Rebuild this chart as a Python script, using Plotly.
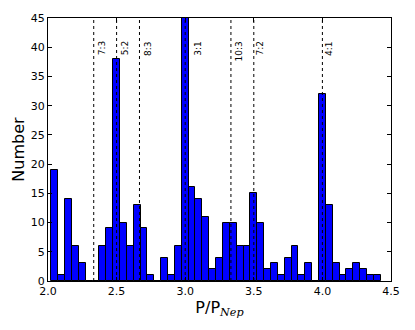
import plotly.graph_objects as go

# histogram bins (centre of each 0.05 bin) and counts
bin_centres = [2.05, 2.10, 2.15, 2.20, 2.25, 2.30, 2.35, 2.40, 2.45, 2.50,
               2.55, 2.60, 2.65, 2.70, 2.75, 2.80, 2.85, 2.90, 2.95, 3.00,
               3.05, 3.10, 3.15, 3.20, 3.25, 3.30, 3.35, 3.40, 3.45, 3.50,
               3.55, 3.60, 3.65, 3.70, 3.75, 3.80, 3.85, 3.90, 3.95, 4.00,
               4.05, 4.10, 4.15, 4.20, 4.25, 4.30, 4.35, 4.40]
counts = [19, 1, 14, 6, 3, 0, 0, 6, 9, 38,
          10, 6, 13, 9, 1, 0, 4, 1, 6, 45,
          16, 14, 11, 2, 4, 10, 10, 6, 6, 15,
          10, 2, 3, 1, 4, 6, 1, 3, 0, 32,
          13, 3, 1, 2, 3, 2, 1, 1]

# mean motion resonances with Neptune
res_ratio = [7/3, 5/2, 8/3, 3.0, 10/3, 7/2, 4.0]
res_label = ["7:3", "5:2", "8:3", "3:1", "10:3", "7:2", "4:1"]

label_shift = [1, 1, 1, 5, 1, -1, -1]

fig = go.Figure()
fig.add_trace(go.Bar(x=bin_centres, y=counts, width=0.05,
                     marker=dict(color="#0000ff",
                                 line=dict(color="black", width=1)),
                     hoverinfo="x+y"))

for r, lab, dx in zip(res_ratio, res_label, label_shift):
    fig.add_shape(type="line", x0=r, x1=r, y0=0, y1=1, xref="x", yref="paper",
                  line=dict(color="black", width=1, dash="dot"), layer="above")
    fig.add_annotation(x=r, y=41.3, xref="x", yref="y", text=lab,
                       textangle=-90, showarrow=False,
                       xanchor="left", yanchor="top", xshift=dx,
                       font=dict(size=9, color="black"))

tickfont = dict(family="DejaVu Sans", size=11, color="black")
fig.update_layout(
    width=415, height=330,
    margin=dict(l=48, r=24, t=15, b=49),
    paper_bgcolor="white", plot_bgcolor="white",
    showlegend=False, bargap=0,
    font=dict(family="DejaVu Sans", color="black"),
    xaxis=dict(range=[2.0, 4.5], tickvals=[2.0, 2.5, 3.0, 3.5, 4.0, 4.5],
               ticktext=["2.0", "2.5", "3.0", "3.5", "4.0", "4.5"],
               ticks="inside", ticklen=4, tickcolor="black",
               showline=True, linecolor="black", linewidth=1, mirror="ticks",
               showgrid=False, zeroline=False, tickfont=tickfont,
               title=dict(text="P/P<sub><i><span style='font-family:DejaVu Serif'>Nep</span></i></sub>",
                          font=dict(size=16), standoff=4)),
    yaxis=dict(range=[0, 45], tickvals=list(range(0, 46, 5)),
               ticks="inside", ticklen=4, tickcolor="black",
               showline=True, linecolor="black", linewidth=1, mirror="ticks",
               showgrid=False, zeroline=False, tickfont=tickfont,
               title=dict(text="Number", font=dict(size=16), standoff=2)),
)

# drop the browser's default body margin so the figure sits at the page corner
fig.write_html("out.html", config={"displayModeBar": False},
               post_script="document.body.style.margin='0px';")
